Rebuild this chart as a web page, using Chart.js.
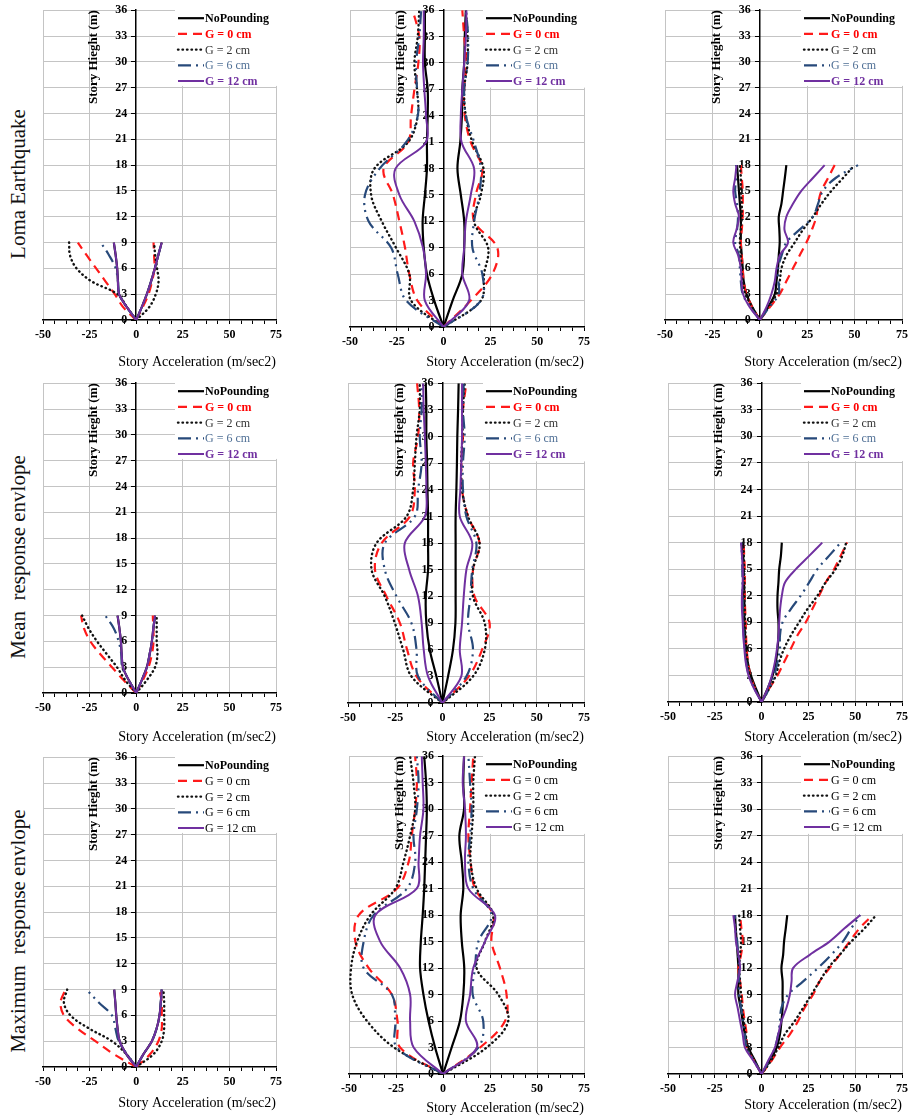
<!DOCTYPE html>
<html>
<head>
<meta charset="utf-8">
<title>Story acceleration envelopes</title>
<script src="https://cdn.jsdelivr.net/npm/chart.js@4.4.0/dist/chart.umd.min.js"></script>
<style>
  body { margin: 0; background: #fff; width: 914px; height: 1117px; position: relative; overflow: hidden; font-family: "Liberation Serif", "Times New Roman", serif; }
  canvas { position: absolute; }
  .row-label { position: absolute; left: 18px; white-space: pre; font-size: 21px; color: #111; transform: translate(-50%, -50%) rotate(-90deg); }
</style>
</head>
<body>
<script>
// ---- data ----
const seriesNames = ["NoPounding", "G = 0 cm", "G = 2 cm", "G = 6 cm", "G = 12 cm"];
const rowNames = ["Loma Earthquake", "Mean  response envlope", "Maximum  response envlope"];
const xTickLabels = [-50, -25, 0, 25, 50, 75];
const xTitle = "Story Acceleration (m/sec2)";
const yTitle = "Story Hieght (m)";

// story heights (m) for the 3, 6 and 12 storey buildings
const heights3 = [0, 1.5, 3, 4.5, 6, 7.5, 9];
const heights6 = [0, 1.5, 3, 4.5, 6, 7.5, 9, 10.5, 12, 13.5, 15, 16.5, 18];
const heights12 = [0, 3, 6, 9, 12, 15, 18, 21, 24, 27, 30, 33, 36];

// each list: [NoPounding, G=0, G=2, G=6, G=12], negative and positive envelopes
const loma3Neg = [
  [0, -5, -9.2, -9.8, -10.2, -11, -12],
  [0, -7, -11.5, -16.5, -21.5, -26.5, -31.3],
  [0, -5, -10, -24, -32, -35.5, -36],
  [0, -5, -9, -9.8, -11, -14.5, -19],
  [0, -5, -9.2, -9.8, -10.2, -11, -12]
];
const loma3Pos = [
  [0, 3, 5.7, 8, 10, 11.8, 13.7],
  [0, 3.5, 6.6, 8.5, 9.8, 9.6, 9.3],
  [0, 7, 10.5, 12, 11.2, 10.2, 9.6],
  [0, 3, 5.7, 8, 10, 11.8, 13.7],
  [0, 3, 5.7, 8, 10, 11.8, 13.7]
];
const loma12Neg = [
  [0, -5, -8.9, -10.6, -11.2, -10, -8.9, -8.9, -8.5, -8.5, -10, -10, -10],
  [0, -14, -18.3, -20.6, -23.6, -27, -32, -19, -17.4, -15.6, -13.5, -13, -16.5],
  [0, -17.4, -18.3, -25.4, -33, -38.7, -37, -19, -13.8, -14.2, -15.6, -13.8, -13],
  [0, -20, -24.5, -28, -40, -42, -34.2, -20, -13.8, -14.2, -14.7, -13, -12],
  [0, -10, -9.4, -11, -15.6, -23.6, -25.7, -9.4, -9.4, -10.3, -11, -10.6, -10.6]
];
const loma12Pos = [
  [0, 4.8, 10, 11, 11, 9.2, 7.4, 8.9, 9.8, 10, 11, 11.3, 11.9],
  [0, 14.5, 26, 28.7, 16.3, 17.2, 20.7, 14.5, 11.3, 11, 12.2, 11, 10],
  [0, 19.9, 21.6, 23.8, 16.3, 19.9, 21.3, 15.4, 11.9, 11, 12.8, 12.8, 11.9],
  [0, 19.9, 20.7, 15.4, 16.3, 19, 19.9, 16.3, 11.9, 11, 12.8, 13.1, 11.9],
  [0, 13.6, 10, 11, 11.9, 14.5, 16.3, 9.6, 9.2, 10, 11, 11.9, 12.2]
];
const loma6Neg = [
  [0, -4, -7, -8.5, -9, -9.5, -10, -10, -10, -10.5, -11, -11.5, -12],
  [0, -4, -7, -8.5, -9, -9.5, -10, -9.5, -9, -9, -9, -9.5, -10],
  [0, -4, -7.5, -9, -9.5, -10, -10.5, -10, -9.5, -9.5, -10, -10, -10.5],
  [0, -5, -9, -10, -10.5, -11, -13, -12, -11.5, -12, -13, -12.5, -12.5],
  [0, -5.3, -8.8, -9.6, -10, -11.4, -14, -12.3, -11, -13, -14, -13, -12.3]
];
const loma6Pos = [
  [0, 4.4, 7.9, 8.8, 9.6, 10, 10.5, 10.3, 10, 11.4, 12.3, 13.2, 14],
  [0, 5.3, 10.5, 14, 17.5, 21, 24.6, 27.5, 29.8, 30.7, 32.5, 36, 39.5],
  [0, 4.4, 8.8, 10.5, 11.4, 14, 18.4, 22.8, 28, 32.5, 37.7, 43.9, 50],
  [0, 5, 10, 9.8, 9.6, 11.5, 14, 21, 28, 30.7, 33.3, 40, 51.8],
  [0, 3.5, 6.1, 7.9, 8.8, 10.5, 14.9, 13, 14, 17.5, 21.9, 28, 34.2]
];
const mean3Neg = [
  [0, -4, -7.1, -7.8, -8.2, -9, -10],
  [0, -6.8, -13, -19.2, -24.6, -28, -29.6],
  [0, -5.9, -10.3, -15.7, -21, -25.5, -29],
  [0, -4, -7.5, -8, -9.4, -12, -16.6],
  [0, -4, -7.1, -7.8, -8.2, -9, -10]
];
const mean3Pos = [
  [0, 3, 5.7, 7.2, 8.4, 9.2, 10.1],
  [0, 3.6, 6.6, 8.4, 9.3, 9.2, 8.9],
  [0, 5.7, 10.1, 11.4, 11, 11, 11],
  [0, 3, 5.7, 7.2, 8.4, 9.2, 10.1],
  [0, 3, 5.7, 7.2, 8.4, 9.2, 10.1]
];
const mean12Neg = [
  [0, -3.2, -6.7, -8.5, -8.8, -7.6, -7.6, -7.6, -7.9, -8.1, -8.5, -8.5, -8.8],
  [0, -13.7, -18.7, -22.5, -29.6, -35.7, -32.2, -17.2, -14.6, -15.5, -12.9, -12.3, -13.4],
  [0, -16.4, -20.8, -25.2, -30.5, -37.5, -34.9, -19, -15.5, -14.6, -13.7, -12, -12],
  [0, -12.9, -13.7, -16.4, -24.3, -30.5, -30.5, -14.6, -12.9, -11, -12, -11, -11],
  [0, -7.6, -9.9, -11, -12.9, -17.6, -19.9, -9.3, -8.5, -8.8, -9.3, -9.9, -10.2]
];
const mean12Pos = [
  [0, 3, 5.6, 6.9, 7, 7, 7, 7, 7.4, 7.7, 7.9, 8.3, 8.6],
  [0, 14, 21, 25, 17, 16.2, 19.7, 13.6, 10.4, 10, 10.9, 10.9, 12.7],
  [0, 16.2, 22.4, 22.4, 16.2, 16.2, 19.7, 13.6, 10.4, 10, 10.6, 10.9, 11.8],
  [0, 12.7, 16.2, 13.6, 14.8, 15.8, 18, 12.7, 10.9, 10.9, 11.8, 10.9, 11.3],
  [0, 10, 9.2, 10.4, 11.3, 12.7, 15.8, 9.2, 9.5, 10, 10.4, 10.4, 10.4]
];
const mean6Neg = [
  [0, -3, -5.7, -7.4, -8.3, -8.8, -9.2, -9.2, -9.2, -9.4, -9.6, -9.8, -10.1],
  [0, -3.5, -6, -7.2, -8, -8.3, -8.5, -8.8, -9, -9, -9, -9.3, -9.6],
  [0, -3.5, -6.2, -7.5, -8.2, -8.6, -8.8, -9, -9.2, -9.2, -9.3, -9.5, -9.8],
  [0, -3.8, -6.8, -8.2, -9, -9.5, -9.8, -10, -10.2, -10.2, -10.3, -10.5, -10.8],
  [0, -4, -7, -8.5, -9.2, -9.8, -10.1, -10.5, -10.5, -10.1, -10.1, -10.5, -11]
];
const mean6Pos = [
  [0, 3.2, 5.9, 7.6, 8.5, 9, 9, 8.5, 8.5, 9, 9.4, 10.3, 10.8],
  [0, 4, 8.5, 12, 15.6, 19.1, 23.6, 27.1, 30.7, 34.2, 38.7, 42.2, 45.7],
  [0, 4, 7.6, 9.4, 12, 15.6, 20, 24.5, 29.8, 34.2, 39.5, 43.1, 45.2],
  [0, 4, 6.7, 8.5, 9.8, 9.8, 11.2, 15.6, 20.9, 25.4, 29.8, 36, 42.2],
  [0, 3.2, 5.5, 7.1, 8.2, 9, 9.4, 9.9, 10.8, 12.5, 18.3, 25.4, 32.4]
];
const max3Neg = [
  [0, -5.3, -8.9, -10, -10.7, -11.2, -11.8],
  [0, -12.1, -21.9, -31.7, -38.8, -40.6, -37.9],
  [0, -5.3, -13, -25.5, -35.3, -38.8, -37],
  [0, -5, -9.4, -11.2, -13, -20.1, -26.7],
  [0, -5.3, -8.9, -10, -10.7, -11.2, -11.8]
];
const max3Pos = [
  [0, 3.9, 8.4, 11, 12.5, 13.2, 13.7],
  [0, 7.5, 11.9, 13.7, 13.7, 13.7, 12.5],
  [0, 9.3, 13.7, 15, 15, 15, 14.6],
  [0, 3.9, 8.4, 11, 12.5, 13.2, 13.7],
  [0, 3.9, 8.4, 11, 12.5, 13.2, 13.7]
];
const max12Neg = [
  [0, -4.2, -7.7, -10.4, -12.2, -11.8, -10.8, -10, -9.5, -9, -8.6, -9, -10],
  [0, -22.8, -24.2, -27.2, -39.5, -46.6, -44.8, -24.5, -18.3, -16.6, -14.8, -13.9, -14.8],
  [0, -26, -40.4, -48.3, -48.9, -45.7, -38.6, -25.4, -21, -17.5, -14.8, -15.7, -17.5],
  [0, -24.5, -25.4, -27.2, -42.2, -42.2, -36.9, -19.2, -14.8, -15.7, -13.9, -13, -13.9],
  [0, -15.6, -17.5, -17.5, -22.8, -33.4, -36, -14, -13, -12.2, -10.4, -10.8, -11.3]
];
const max12Pos = [
  [0, 4.6, 9, 10.8, 11.3, 10, 9.4, 10.8, 10, 8.7, 11.2, 10.8, 11.2],
  [0, 19.7, 33, 33.8, 30.3, 25.8, 26.7, 17, 14.7, 13.5, 14.4, 15.2, 16.1],
  [0, 23.2, 34.7, 29.4, 17.9, 22.3, 26.7, 17.9, 14.7, 15.2, 16.1, 16.1, 17],
  [0, 18.8, 21.4, 15.8, 17, 18.8, 25.8, 16.1, 13.5, 14.4, 15.2, 14.4, 13.5],
  [0, 18, 12.2, 14.4, 16.1, 22.3, 27.6, 13.5, 11.7, 12.2, 11.7, 10.5, 11.2]
];
const max6Neg = [
  [0, -3.5, -7.1, -8.9, -10.1, -11.2, -12.4, -12.4, -12.4, -12.8, -13.3, -13.8, -14.2],
  [0, -4, -8, -8, -9, -10, -10.6, -11.5, -12.4, -11, -10.1, -10.8, -11.5],
  [0, -4, -7.5, -8.5, -9.5, -10.5, -11, -11.5, -12, -11.5, -11, -11.5, -12],
  [0, -4, -8, -9, -10, -11, -12, -12, -12, -12.5, -13, -14, -14.2],
  [0, -4.4, -8.9, -10.1, -11.5, -12.8, -14.2, -12.9, -11.5, -12.4, -13.7, -14.2, -15.1]
];
const max6Pos = [
  [0, 4.4, 8, 9.8, 10.6, 11.2, 11.2, 11.2, 10.6, 11.5, 12, 12.9, 13.7],
  [0, 5.3, 9.8, 15.1, 19.5, 23, 27.5, 31, 36.3, 41.7, 47, 52.3, 59.4],
  [0, 5, 8.9, 12.4, 17.7, 22.2, 26.6, 31, 35.5, 41.7, 47.9, 55, 61.2],
  [0, 4, 7.1, 8.9, 9.8, 10.6, 14.2, 22.2, 30.1, 37.2, 43.4, 47.9, 52.7],
  [0, 3.5, 7.1, 8.9, 10.6, 13.3, 15.1, 16, 16.8, 25.7, 36.3, 44.3, 52.7]
];

// ---- look ----
const lineStyles = [
  { color: "#000000", dash: [], width: 2.2, cap: "butt" },
  { color: "#ff1a1a", dash: [9, 6], width: 2.2, cap: "butt" },
  { color: "#111111", dash: [0.5, 4], width: 2.4, cap: "round" },
  { color: "#27497a", dash: [13, 5, 2, 5, 2, 5], width: 2.2, cap: "butt" },
  { color: "#7030a0", dash: [], width: 2, cap: "butt" }
];
const colourText = { colors: ["#000", "#ff0000", "#333", "#4f6f95", "#7030a0"], weights: ["bold", "bold", "normal", "normal", "bold"] };
const plainText = { colors: ["#000", "#000", "#000", "#000", "#000"], weights: ["bold", "normal", "normal", "normal", "normal"] };
const gridCol = "#c4c4c4";
const serif = "'Liberation Serif', 'Times New Roman', serif";

// box = [left, right, top, bottom] of the plot area in page pixels, gap = axis -> x title centre
const panels = [
  { neg: loma3Neg, pos: loma3Pos, h: heights3, box: [43, 277, 10, 320], gap: 42, text: colourText },
  { neg: loma12Neg, pos: loma12Pos, h: heights12, box: [350, 585, 10, 327], gap: 35, text: colourText },
  { neg: loma6Neg, pos: loma6Pos, h: heights6, box: [665, 903, 10, 320], gap: 42, text: colourText },
  { neg: mean3Neg, pos: mean3Pos, h: heights3, box: [43, 277, 383, 693], gap: 44, text: colourText },
  { neg: mean12Neg, pos: mean12Pos, h: heights12, box: [348, 585, 383, 703], gap: 34, text: colourText },
  { neg: mean6Neg, pos: mean6Pos, h: heights6, box: [668, 903, 383, 702], gap: 35, text: colourText },
  { neg: max3Neg, pos: max3Pos, h: heights3, box: [43, 277, 757, 1067], gap: 36, text: plainText },
  { neg: max12Neg, pos: max12Pos, h: heights12, box: [349, 585, 756, 1074], gap: 34, text: plainText },
  { neg: max6Neg, pos: max6Pos, h: heights6, box: [668, 903, 756, 1074], gap: 31, text: plainText }
];
const rowCentres = [184, 557, 931];

// legend inside the plot + rotated y title
const overlayPlugin = {
  id: "overlay",
  beforeDatasetsDraw(chart, args, opts) {
    const { ctx, chartArea, scales } = chart;
    const x0 = chartArea.right - 101;
    const yb = scales.y.getPixelForValue(27.2);
    ctx.save();
    ctx.fillStyle = "#fff";
    ctx.fillRect(x0, chartArea.top - 1, chartArea.right + 2 - x0, yb - chartArea.top + 1);
    ctx.restore();
  },
  afterDatasetsDraw(chart, args, opts) {
    const { ctx, chartArea, scales } = chart;
    const sx = chartArea.right - 98;
    ctx.save();
    seriesNames.forEach((name, i) => {
      const st = lineStyles[i];
      const y = chartArea.top + 8 + i * 15.7;
      ctx.strokeStyle = st.color;
      ctx.lineWidth = st.width;
      ctx.lineCap = st.cap;
      ctx.setLineDash(st.dash);
      ctx.beginPath();
      ctx.moveTo(sx, y);
      ctx.lineTo(sx + 26, y);
      ctx.stroke();
      ctx.setLineDash([]);
      ctx.fillStyle = opts.text.colors[i];
      ctx.font = opts.text.weights[i] + " 12px " + serif;
      ctx.textAlign = "left";
      ctx.textBaseline = "middle";
      ctx.fillText(name, sx + 27, y + 1);
    });
    // y title, reads bottom to top, ends at the top of the plot
    const ax = scales.x.getPixelForValue(0);
    ctx.translate(ax - 43, chartArea.top);
    ctx.rotate(-Math.PI / 2);
    ctx.fillStyle = "#000";
    ctx.font = "bold 13px " + serif;
    ctx.textAlign = "right";
    ctx.textBaseline = "middle";
    ctx.fillText(yTitle, 0, 0);
    ctx.restore();
  }
};

function branch(acc, h) {
  return acc.map((a, i) => ({ x: a, y: h[i] }));
}

rowNames.forEach((name, r) => {
  const d = document.createElement("div");
  d.className = "row-label";
  d.style.top = rowCentres[r] + "px";
  d.textContent = name;
  document.body.appendChild(d);
});

const tickFont = { family: serif, size: 12, weight: "bold" };

panels.forEach((p) => {
  const [L, R, T, B] = p.box;
  const padL = 30, padR = 9, padT = 10;
  const axisH = p.gap + 8;
  const w = padL + (R - L) + padR;
  const hgt = padT + (B - T) + axisH;
  const cv = document.createElement("canvas");
  cv.width = w;
  cv.height = hgt;
  cv.style.left = (L - padL) + "px";
  cv.style.top = (T - padT) + "px";
  document.body.appendChild(cv);

  const datasets = [];
  seriesNames.forEach((name, i) => {
    const st = lineStyles[i];
    [p.neg[i], p.pos[i]].forEach((acc) => {
      datasets.push({
        label: name,
        data: branch(acc, p.h),
        showLine: true,
        borderColor: st.color,
        borderWidth: st.width,
        borderDash: st.dash,
        borderCapStyle: st.cap,
        pointRadius: 0,
        tension: 0.35,
        order: 4 - i
      });
    });
  });

  new Chart(cv, {
    type: "scatter",
    data: { datasets },
    options: {
      responsive: false,
      animation: false,
      events: [],
      layout: { padding: { left: padL, right: padR, top: padT, bottom: 0 } },
      plugins: {
        legend: { display: false },
        tooltip: { enabled: false },
        overlay: { text: p.text }
      },
      scales: {
        x: {
          type: "linear",
          min: -50,
          max: 75,
          ticks: {
            stepSize: 6.25,
            autoSkip: false,
            maxRotation: 0,
            padding: 4,
            color: "#000",
            font: tickFont,
            callback: (v) => (xTickLabels.includes(v) ? v : "")
          },
          grid: {
            color: (c) => (c.tick && c.tick.value !== 0 && xTickLabels.includes(c.tick.value) ? gridCol : "rgba(0,0,0,0)"),
            tickColor: "#000",
            tickLength: 4
          },
          border: { color: "#000", width: 1.5 },
          title: {
            display: true,
            text: xTitle,
            align: "end",
            color: "#000",
            padding: 0,
            font: { family: serif, size: 14, lineHeight: "16px" }
          },
          afterFit: (s) => { s.height = axisH; }
        },
        y: {
          type: "linear",
          min: 0,
          max: 36,
          position: { x: 0 },
          ticks: {
            stepSize: 3,
            color: "#000",
            font: tickFont,
            // labels of an axis placed at x = 0 sit flush on it, keep a small gap
            callback: (v) => v + "\u00A0\u00A0\u00A0"
          },
          grid: {
            color: (c) => (c.tick && c.tick.value !== 0 ? gridCol : "rgba(0,0,0,0)"),
            tickColor: "#000",
            tickLength: 4
          },
          border: { color: "#000", width: 1.5 }
        }
      }
    },
    plugins: [overlayPlugin]
  });
});
</script>
</body>
</html>
